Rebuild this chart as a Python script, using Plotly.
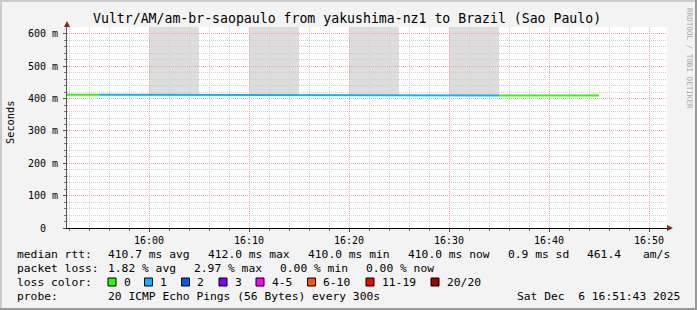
import plotly.graph_objects as go
from datetime import datetime, timedelta

# ---------------- data ----------------
title_text = "Vultr/AM/am-br-saopaulo from yakushima-nz1 to Brazil (Sao Paulo)"
sample_end = ["2025-12-06 15:55:00", "2025-12-06 16:00:00", "2025-12-06 16:05:00",
              "2025-12-06 16:10:00", "2025-12-06 16:15:00", "2025-12-06 16:20:00",
              "2025-12-06 16:25:00", "2025-12-06 16:30:00", "2025-12-06 16:35:00",
              "2025-12-06 16:40:00", "2025-12-06 16:45:00"]
median_ms = [412.0, 412.0, 412.0, 412.0, 410.0, 410.0, 410.0, 410.0, 410.0, 410.0, 410.0]
loss_count = [0, 1, 1, 1, 1, 1, 1, 1, 1, 0, 0]

smoke_start = ["2025-12-06 16:00:00", "2025-12-06 16:10:00", "2025-12-06 16:20:00", "2025-12-06 16:30:00"]
smoke_end = ["2025-12-06 16:05:00", "2025-12-06 16:15:00", "2025-12-06 16:25:00", "2025-12-06 16:35:00"]
smoke_low = [412.0, 410.0, 410.0, 410.0]
smoke_high = [621.6, 621.6, 621.6, 621.6]

loss_labels = ["0", "1", "2", "3", "4-5", "6-10", "11-19", "20/20"]
loss_colors = ["#26ff00", "#00b8ff", "#0059ff", "#7e00ff", "#ff00ff", "#ff5500", "#ff0000", "#a10000"]

y_tickvals = [0, 100, 200, 300, 400, 500, 600]
y_ticktext = ["0<span style='color:rgba(0,0,0,0)'>00</span>", "100 m", "200 m", "300 m",
              "400 m", "500 m", "600 m"]

rtt_stats = ["410.7 ms avg", "412.0 ms max", "410.0 ms min", "410.0 ms now", "0.9 ms sd", "461.4", "am/s"]
loss_stats = ["1.82 % avg", "2.97 % max", "0.00 % min", "0.00 % now"]
probe_text = "20 ICMP Echo Pings (56 Bytes) every 300s"
stamp_text = "Sat Dec  6 16:51:43 2025"

x_range = ["2025-12-06 15:51:48", "2025-12-06 16:51:48"]
y_range = [0, 621.6]

# ---------------- layout geometry ----------------
W, H = 697, 310
L, R, T, B = 67, 667, 27, 228
MONO = "DejaVu Sans Mono"


def px(x):
    return (x - L) / (R - L)


def py(y):
    return (B - y) / (B - T)


fig = go.Figure()

# median line, coloured by loss
fmt = "%Y-%m-%d %H:%M:%S"
for ci, col in enumerate(loss_colors):
    xs, ys = [], []
    prev = False
    for t, v, lc in zip(sample_end, median_ms, loss_count):
        if lc == ci:
            te = datetime.strptime(t, fmt)
            ts = te - timedelta(minutes=5)
            xs += [ts, te]
            ys += [v, v]
            prev = True
        else:
            if prev:
                xs.append(None)
                ys.append(None)
            prev = False
    if xs:
        fig.add_trace(go.Scatter(x=xs, y=ys, mode="lines",
                                 line=dict(color=col, width=2),
                                 hoverinfo="skip", showlegend=False))

shapes = []
# smoke (drawn below grid)
for s, e, lo, hi in zip(smoke_start, smoke_end, smoke_low, smoke_high):
    shapes.append(dict(type="rect", xref="x", yref="y", x0=s, x1=e, y0=lo, y1=hi,
                       fillcolor="#dddddd", line=dict(width=0), layer="below"))

# frame shading
shapes += [
    dict(type="rect", xref="paper", yref="paper", x0=px(0), x1=px(W), y0=py(0), y1=py(2),
         fillcolor="#cbcbcb", line=dict(width=0), layer="above"),
    dict(type="rect", xref="paper", yref="paper", x0=px(0), x1=px(2), y0=py(0), y1=py(H),
         fillcolor="#cbcbcb", line=dict(width=0), layer="above"),
    dict(type="rect", xref="paper", yref="paper", x0=px(0), x1=px(W), y0=py(H - 2), y1=py(H),
         fillcolor="#999999", line=dict(width=0), layer="above"),
    dict(type="rect", xref="paper", yref="paper", x0=px(W - 2), x1=px(W), y0=py(0), y1=py(H),
         fillcolor="#999999", line=dict(width=0), layer="above"),
]

# axis arrows
ax_col = "#9b1c1c"
shapes.append(dict(type="path", xref="paper", yref="paper",
                   path=f"M {px(64)} {py(27)} L {px(70)} {py(27)} L {px(67)} {py(21)} Z",
                   fillcolor=ax_col, line=dict(width=0), layer="above"))
shapes.append(dict(type="path", xref="paper", yref="paper",
                   path=f"M {px(667)} {py(225)} L {px(667)} {py(231)} L {px(673)} {py(228)} Z",
                   fillcolor=ax_col, line=dict(width=0), layer="above"))

annotations = []


def txt(x, y, s, size=11.3, anchor="left", color="#000", angle=0, family=MONO):
    annotations.append(dict(x=px(x), y=py(y), xref="paper", yref="paper", text=s,
                            showarrow=False, xanchor=anchor, yanchor="middle",
                            textangle=angle, borderpad=0,
                            font=dict(family=family, size=size, color=color)))


# title
txt(347, 19, title_text, size=13.2, anchor="center")
# y title
txt(10, 123, "Seconds", size=10.3, anchor="center", angle=-90)
# watermark
txt(689, 58, "RRDTOOL / TOBI OETIKER", size=7.6, anchor="center", angle=90, color="#a8a8a8")

# legend rows
row1, row2, row3, row4 = 254, 268, 282, 296.5
txt(16, row1, "median rtt:")
for xx, s in zip([107, 207, 307, 407, 507, 586, 642], rtt_stats):
    txt(xx, row1, s)
txt(16, row2, "packet loss:")
for xx, s in zip([107, 193, 279, 365], loss_stats):
    txt(xx, row2, s)
txt(16, row3, "loss color:")
box_x = [108, 144.5, 181.5, 219, 256, 307.5, 366, 431]
for bx, lab, col in zip(box_x, loss_labels, loss_colors):
    shapes.append(dict(type="rect", xref="paper", yref="paper",
                       x0=px(bx), x1=px(bx + 8), y0=py(278), y1=py(286),
                       fillcolor=col, line=dict(color="#000", width=1), layer="above"))
    txt(bx + 14.5, row3, lab)
txt(16, row4, "probe:")
txt(107, row4, probe_text)
txt(681, row4, stamp_text, anchor="right")

fig.update_layout(
    width=W, height=H,
    margin=dict(l=L, r=W - R, t=T, b=H - B, pad=0),
    paper_bgcolor="#f3f3f3", plot_bgcolor="#ffffff",
    showlegend=False,
    shapes=shapes, annotations=annotations,
    xaxis=dict(type="date", range=x_range, tickformat="%H:%M",
               tick0="2025-12-06 16:00:00", dtick=600000,
               showgrid=True, gridcolor="#f2a2a2", griddash="1px,1px", gridwidth=1,
               minor=dict(dtick=120000, showgrid=True, gridcolor="#cfcfcf",
                          griddash="1px,1px", ticks="outside", ticklen=2, tickcolor="#777"),
               ticks="outside", ticklen=3, tickcolor="#555",
               showline=True, linecolor="#000", linewidth=1, zeroline=False,
               tickfont=dict(family=MONO, size=10, color="#000"), fixedrange=True),
    yaxis=dict(range=y_range, tickvals=y_tickvals, ticktext=y_ticktext,
               showgrid=True, gridcolor="#f2a2a2", griddash="1px,1px", gridwidth=1,
               minor=dict(tickvals=[v for v in range(20, 620, 20) if v % 100],
                          showgrid=True, gridcolor="#cfcfcf", griddash="1px,1px",
                          ticks="outside", ticklen=2, tickcolor="#777"),
               ticks="outside", ticklen=3, tickcolor="#555", ticklabelstandoff=3,
               showline=True, linecolor="#555", linewidth=1, zeroline=False,
               tickfont=dict(family=MONO, size=10, color="#000"), fixedrange=True),
)

fig.write_html("out.html")
